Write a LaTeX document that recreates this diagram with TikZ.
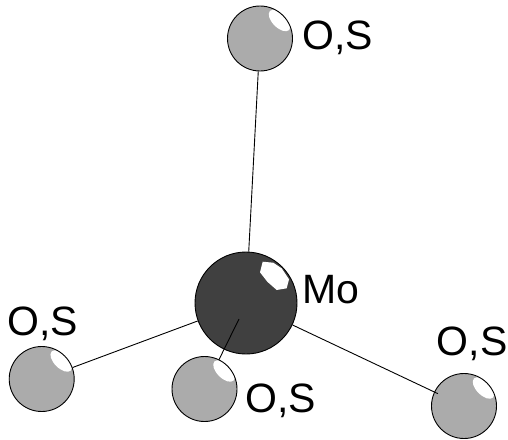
\documentclass[tikz,border=0pt]{standalone}
\usepackage{fontspec}
\setmainfont{Liberation Sans}
\begin{document}
\begin{tikzpicture}[x=1pt,y=-1pt,line width=0.9pt,
    bond/.style={draw=black},
    label/.style={inner sep=0pt,anchor=base west,font=\fontsize{41}{49}\selectfont},
    molybdenum/.style={circle,draw=black,fill=black!75,inner sep=0pt,minimum size=102pt},
    ligand/.style={circle,draw=black,fill=black!33,inner sep=0pt,minimum size=65pt,
        path picture={\fill[white,shift={(path picture bounding box.center)}]
            (19.5,-18) circle [x radius=13.5,y radius=7,rotate=-45];}}]
\useasboundingbox (0,0) rectangle (508,439);
\node[molybdenum] (mo) at (246,303) {};
\fill[white,shift={(mo.center)}] (16.7,-41.3) -- (27.3,-40.3) -- (35.7,-34.7) -- (43,-23.7)
    -- (40.7,-14.7) -- (30.7,-13) -- (21.3,-21.3) -- (14,-30.7) -- cycle;
\coordinate (inner) at (239,319);
\draw[bond] (inner) -- (204.5,389);
\node[ligand] (otop) at (260,38.5) {};
\node[ligand] (oleft) at (41.7,379) {};
\node[ligand] (omid) at (204.5,389) {};
\node[ligand] (oright) at (464,406) {};
\draw[bond] (mo) -- (otop);
\draw[bond] (mo) -- (oleft);
\draw[bond,shorten >=-4pt] (mo) -- (oright);
\node[label] (ltop) at (302,49) {O,S};
\node[label] (lmo) at (302,303) {Mo};
\node[label] (lleft) at (7,335) {O,S};
\node[label] (lmid) at (245,412) {O,S};
\node[label] (lright) at (436.5,355) {O,S};
\end{tikzpicture}
\end{document}
